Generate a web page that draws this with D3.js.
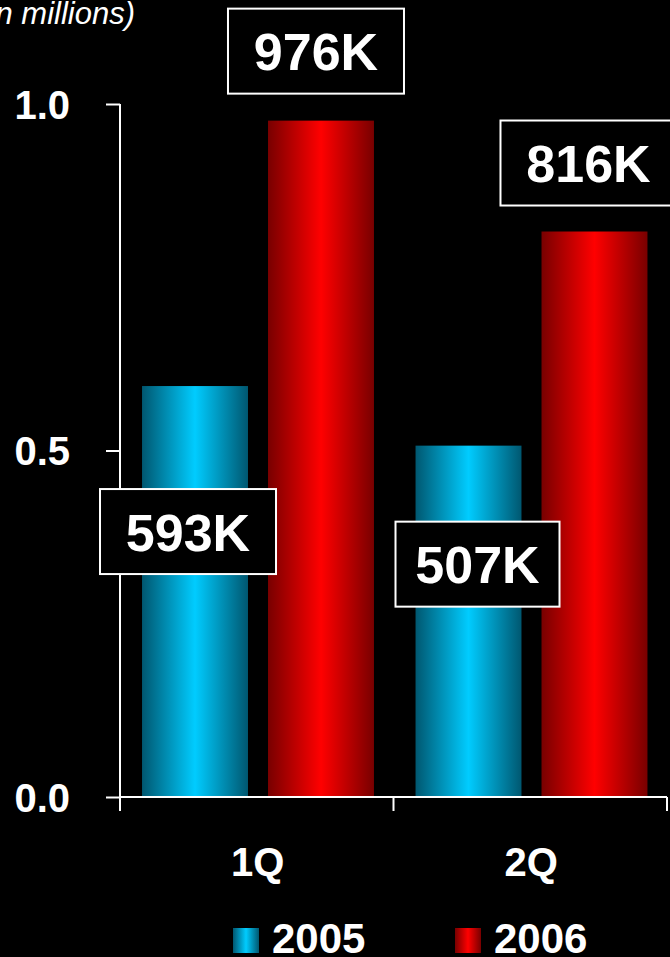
<!DOCTYPE html>
<html>
<head>
<meta charset="utf-8">
<script src="https://cdn.jsdelivr.net/npm/d3@7"></script>
<style>
  html, body { margin: 0; padding: 0; background: #000; }
  svg { display: block; font-family: "Liberation Sans", Arial, sans-serif; }
</style>
</head>
<body>
<svg id="chart" width="670" height="957"></svg>
<script>
// Quarterly volume, in millions
const quarters = ["1Q", "2Q"];
const years = ["2005", "2006"];
const values2005 = [0.593, 0.507];
const values2006 = [0.976, 0.816];
const yTicks = [0.0, 0.5, 1.0];
const unitNote = "(in millions)";

// Callout placement per bar: horizontal shift of box centre, box top relative to bar top, box width
const calloutLayout = {
  "1Q-2005": { dx: -7, dy: 103, w: 176 },
  "1Q-2006": { dx: -5, dy: -112, w: 176 },
  "2Q-2005": { dx: 9, dy: 76, w: 164 },
  "2Q-2006": { dx: -6, dy: -111, w: 176 }
};

const W = 670, H = 957;
const margin = { left: 120, right: 3, top: 104, bottom: 160 };
const svg = d3.select("#chart");

const rows = quarters.map((q, i) => ({
  quarter: q,
  bars: [
    { year: "2005", value: values2005[i] },
    { year: "2006", value: values2006[i] }
  ]
}));

const x0 = d3.scaleBand().domain(quarters).range([margin.left, W - margin.right]).padding(0);
const x1 = d3.scaleBand().domain(years).range([0, x0.bandwidth()])
  .paddingInner(0.159).paddingOuter(0.165).align(0.53);
const y = d3.scaleLinear().domain([0, 1]).range([H - margin.bottom, margin.top]);

// Horizontal "cylinder" shading for each series
const defs = svg.append("defs");
const shades = {
  "2005": { edge: "#005770", mid: "#00ccff" },
  "2006": { edge: "#780000", mid: "#ff0000" }
};
Object.entries(shades).forEach(([yr, c]) => {
  const g = defs.append("linearGradient").attr("id", "grad" + yr)
    .attr("x1", "0%").attr("x2", "100%").attr("y1", "0%").attr("y2", "0%");
  g.append("stop").attr("offset", "0%").attr("stop-color", c.edge);
  g.append("stop").attr("offset", "50%").attr("stop-color", c.mid);
  g.append("stop").attr("offset", "100%").attr("stop-color", c.edge);
});

// Unit note, top left
svg.append("text")
  .attr("x", 135).attr("y", 24)
  .attr("text-anchor", "end")
  .attr("font-size", 31).attr("font-style", "italic")
  .attr("fill", "#fff")
  .text(unitNote);

// Bars
const groups = svg.append("g").selectAll("g").data(rows).join("g")
  .attr("transform", d => `translate(${x0(d.quarter)},0)`);

groups.selectAll("rect").data(d => d.bars).join("rect")
  .attr("x", d => x1(d.year))
  .attr("y", d => y(d.value))
  .attr("width", x1.bandwidth())
  .attr("height", d => y(0) - y(d.value))
  .attr("fill", d => `url(#grad${d.year})`);

// Y axis
const yAxis = svg.append("g")
  .attr("transform", `translate(${margin.left},0)`)
  .call(d3.axisLeft(y).tickValues(yTicks).tickFormat(d3.format(".1f")).tickSize(14).tickPadding(36));
yAxis.select(".domain").attr("stroke", "#fff").attr("stroke-width", 2).attr("d", `M0,${y(1)}V${y(0)}`);
yAxis.selectAll(".tick line").attr("stroke", "#fff").attr("stroke-width", 2);
yAxis.selectAll(".tick text")
  .attr("fill", "#fff").attr("font-size", 40).attr("font-weight", "bold")
  .attr("font-family", "'Liberation Sans', Arial, sans-serif")
  .attr("dy", "0.36em");

// X axis with boundary ticks between quarters
const xAxisG = svg.append("g").attr("transform", `translate(0,${y(0)})`);
xAxisG.append("line")
  .attr("x1", margin.left).attr("x2", W - margin.right)
  .attr("stroke", "#fff").attr("stroke-width", 2);
const boundaries = quarters.map(q => x0(q)).concat([x0(quarters[quarters.length - 1]) + x0.bandwidth()]);
xAxisG.selectAll("line.tk").data(boundaries).join("line").attr("class", "tk")
  .attr("x1", d => d).attr("x2", d => d).attr("y1", 0).attr("y2", 14)
  .attr("stroke", "#fff").attr("stroke-width", 2);
xAxisG.selectAll("text").data(quarters).join("text")
  .attr("x", d => x0(d) + x0.bandwidth() / 2 + 1)
  .attr("y", 79)
  .attr("text-anchor", "middle")
  .attr("fill", "#fff").attr("font-size", 40).attr("font-weight", "bold")
  .text(d => d);

// Value callouts
const fmtK = v => Math.round(v * 1000) + "K";
const callouts = [];
rows.forEach(r => r.bars.forEach(b => {
  const L = calloutLayout[r.quarter + "-" + b.year];
  const cx = x0(r.quarter) + x1(b.year) + x1.bandwidth() / 2 + L.dx;
  callouts.push({ cx, top: y(b.value) + L.dy, w: L.w, label: fmtK(b.value) });
}));
const cg = svg.append("g").selectAll("g").data(callouts).join("g");
cg.append("rect")
  .attr("x", d => d.cx - d.w / 2).attr("y", d => d.top)
  .attr("width", d => d.w).attr("height", 85)
  .attr("fill", "#000").attr("stroke", "#fff").attr("stroke-width", 2);
cg.append("text")
  .attr("x", d => d.cx).attr("y", d => d.top + 42.5 + 19)
  .attr("text-anchor", "middle")
  .attr("fill", "#fff").attr("font-size", 52).attr("font-weight", "bold")
  .text(d => d.label);

// Legend
const legend = svg.append("g").selectAll("g").data(years).join("g")
  .attr("transform", (d, i) => `translate(${233 + i * 222},928)`);
legend.append("rect").attr("width", 26).attr("height", 25)
  .attr("fill", d => `url(#grad${d})`);
legend.append("text").attr("x", 39).attr("y", 25)
  .attr("fill", "#fff").attr("font-size", 42).attr("font-weight", "bold")
  .text(d => d);
</script>
</body>
</html>
